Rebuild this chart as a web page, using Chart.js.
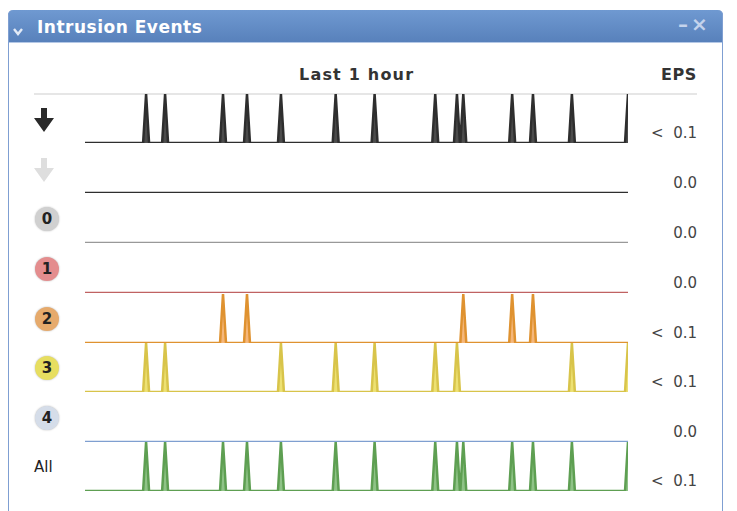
<!DOCTYPE html>
<html>
<head>
<meta charset="utf-8">
<script src="https://cdn.jsdelivr.net/npm/chart.js@4"></script>
<style>
  body { margin: 0; background: #fff; width: 737px; height: 511px; overflow: hidden; position: relative; font-family: 'DejaVu Sans', Verdana, sans-serif; }
  #panel { position: absolute; left: 8px; top: 10px; width: 713px; height: 520px; border: 1px solid #7f9fd2; border-top: none; border-radius: 5px 5px 0 0; }
  #titlebar { position: absolute; left: 8px; top: 10px; width: 715px; height: 32px; border-radius: 5px 5px 0 0;
    background: linear-gradient(#6f99d1, #5881bb); border-bottom: 1px solid #b4c8e6; }
  #title { position: absolute; left: 37px; top: 17px; color: #fff; font: bold 17px 'DejaVu Sans', sans-serif; letter-spacing: 0.5px; }
  #chev { position: absolute; left: 13px; top: 21px; }
  #ctrl { position: absolute; left: 678px; top: 12px; color: #c4d3ec; font: bold 20px 'DejaVu Sans', sans-serif; letter-spacing: 3px; }
  .hdr { position: absolute; top: 65px; font: bold 16px 'DejaVu Sans', sans-serif; color: #333; letter-spacing: 1.2px; }
  #rule { position: absolute; left: 34px; top: 93px; width: 663px; height: 2px; background: #e6e6e6; }
  .row { position: absolute; left: 85px; width: 544px; height: 52px; }
  .val { position: absolute; right: 40px; font: 15px 'DejaVu Sans', sans-serif; color: #444; white-space: pre; }
  .badge { position: absolute; left: 35px; width: 24px; height: 24px; border-radius: 50%; text-align: center;
    font: bold 15px 'DejaVu Sans', sans-serif; line-height: 24px; color: #222; box-shadow: 0 0 2px rgba(0,0,0,0.3); }
  .all { position: absolute; left: 34px; font: 15px 'DejaVu Sans', sans-serif; color: #222; }
  .arrow { position: absolute; left: 32px; }
</style>
</head>
<body>
<div id="titlebar"></div>
<div id="panel"></div>
<div id="chev"><svg width="10" height="8" viewBox="0 0 10 8"><path d="M1 1 L5 6 L9 1" stroke="#e2eaf6" stroke-width="2.4" fill="none"/></svg></div>
<div id="title">Intrusion Events</div>
<div id="ctrl">&#x2013;&#x00D7;</div>
<div class="hdr" style="left:299px">Last 1 hour</div>
<div class="hdr" style="right:40px; letter-spacing:0.6px">EPS</div>
<div id="rule"></div>
<div id="rows"></div>
<script>
// event times in minutes across the last hour (0 = 60 min ago, 60 = now)
const sev2Times = [15.25, 17.9, 41.8, 47.2, 49.5];
const sev3Times = [6.75, 8.85, 21.65, 27.7, 32.0, 38.7, 41.1, 53.8, 60];
const allTimes = [6.75, 8.85, 15.25, 17.9, 21.65, 27.7, 32.0, 38.7, 41.1, 41.8, 47.2, 49.5, 53.8, 60];

const rowNames = ['blocked', 'notBlocked', '0', '1', '2', '3', '4', 'All'];
const rowEvents = [allTimes, [], [], [], sev2Times, sev3Times, [], allTimes];
const epsLabels = ['<  0.1', '0.0', '0.0', '0.0', '<  0.1', '<  0.1', '0.0', '<  0.1'];

const lineColors = ['#2e2e2e', '#2e2e2e', '#999999', '#c06262', '#df9230', '#d8c44a', '#7f9fd0', '#5e9f52'];
const fillColors = ['rgba(45,45,45,0.85)', '#555', '#aaa', '#d07070', 'rgba(242,165,90,0.8)', 'rgba(232,218,80,0.8)', '#9ab', 'rgba(105,175,95,0.75)'];
const badgeColors = ['', '', '#d0d0d0', '#e48d8e', '#e6aa6c', '#e7de60', '#d5dde9'];
const baselines = [143, 193, 243, 293, 343, 392, 442, 491];

const halfWidth = 0.33; // minutes each side of a spike

const rows = document.getElementById('rows');

function arrowSvg(color) {
  return '<svg width="24" height="26" viewBox="0 0 24 26"><path d="M9 1 H15 V11 H22 L12 25 L2 11 H9 Z" fill="' + color + '"/></svg>';
}

rowNames.forEach((name, i) => {
  const base = baselines[i];

  // left icon
  if (i < 2) {
    const a = document.createElement('div');
    a.className = 'arrow';
    a.style.top = (base - 36) + 'px';
    a.innerHTML = arrowSvg(i === 0 ? '#2a2a2a' : '#dedede');
    rows.append(a);
  } else if (name === 'All') {
    const a = document.createElement('div');
    a.className = 'all';
    a.style.top = (base - 33) + 'px';
    a.textContent = 'All';
    rows.append(a);
  } else {
    const b = document.createElement('div');
    b.className = 'badge';
    b.style.top = (base - 36) + 'px';
    b.style.background = badgeColors[i];
    b.textContent = name;
    rows.append(b);
  }

  // EPS value
  const v = document.createElement('div');
  v.className = 'val';
  v.style.top = (base - 19) + 'px';
  v.textContent = epsLabels[i];
  rows.append(v);

  // sparkline
  const wrap = document.createElement('div');
  wrap.className = 'row';
  wrap.style.top = (base - 49) + 'px';
  const cv = document.createElement('canvas');
  wrap.append(cv);
  rows.append(wrap);

  let pts = [{x: 0, y: 0}];
  rowEvents[i].forEach(t => {
    pts.push({x: Math.max(0, t - halfWidth), y: 0});
    pts.push({x: t, y: 1});
    if (t + halfWidth <= 60) pts.push({x: t + halfWidth, y: 0});
  });
  if (pts[pts.length - 1].x < 60) pts.push({x: 60, y: 0});

  new Chart(cv, {
    type: 'line',
    data: {
      datasets: [{
        data: pts,
        borderColor: lineColors[i],
        borderWidth: 2.5,
        backgroundColor: fillColors[i],
        fill: 'origin',
        pointRadius: 0,
        tension: 0
      }]
    },
    options: {
      responsive: true,
      maintainAspectRatio: false,
      animation: false,
      layout: { padding: { top: 0, bottom: 3, left: 0, right: 1 } },
      plugins: { legend: { display: false }, tooltip: { enabled: false } },
      scales: {
        x: { type: 'linear', min: 0, max: 60, display: false },
        y: { min: 0, max: 1, display: false }
      }
    }
  });
});
</script>
</body>
</html>
